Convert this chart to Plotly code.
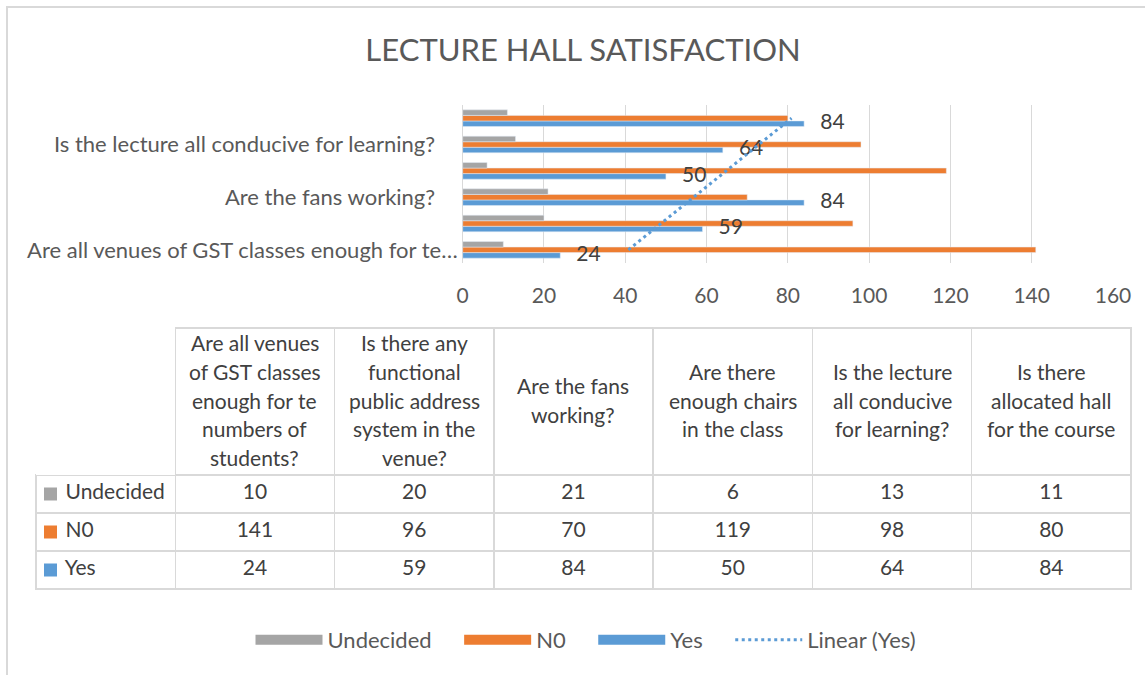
import numpy as np
import plotly.graph_objects as go

# ---------------- data ----------------
questions = [
    "Are all venues of GST classes enough for te numbers of students?",
    "Is there any functional public address system in the venue?",
    "Are the fans working?",
    "Are there enough chairs in the class",
    "Is the lecture all conducive for learning?",
    "Is there allocated hall for the course",
]
header_labels = [
    "Are all venues<br>of GST classes<br>enough for te<br>numbers of<br>students?",
    "Is there any<br>functional<br>public address<br>system in the<br>venue?",
    "Are the fans<br>working?",
    "Are there<br>enough chairs<br>in the class",
    "Is the lecture<br>all conducive<br>for learning?",
    "Is there<br>allocated hall<br>for the course",
]
axis_label_idx = [0, 2, 4]
axis_labels = [
    "Are all venues of GST classes enough for te\u2026",
    "Are the fans working?",
    "Is the lecture all conducive for learning?",
]
undecided = [10, 20, 21, 6, 13, 11]
no_vals = [141, 96, 70, 119, 98, 80]
yes_vals = [24, 59, 84, 50, 64, 84]
row_names = ["Undecided", "N0", "Yes"]
x_ticks = [0, 20, 40, 60, 80, 100, 120, 140, 160]

# ---------------- style ----------------
GRAY = "#A5A5A5"
ORANGE = "#ED7D31"
BLUE = "#5B9BD5"
TXT = "#595959"
DARK = "#404040"
GRID = "#D9D9D9"
FONT = "Lato"
W, H = 1145, 675
BARGAP = 0.37
NBSP = "\u00a0"


def px_x(p):
    return p / W


def px_y(p):
    return 1 - p / H


idx = np.arange(len(questions))
bar_w = (1 - BARGAP) / 3

fig = go.Figure()

# bars: first trace sits at the bottom of each group
fig.add_trace(go.Bar(y=idx, x=yes_vals, orientation="h", name="Yes", marker_color=BLUE, showlegend=False))
fig.add_trace(go.Bar(y=idx, x=no_vals, orientation="h", name="N0", marker_color=ORANGE, showlegend=False))
fig.add_trace(go.Bar(y=idx, x=undecided, orientation="h", name="Undecided", marker_color=GRAY, showlegend=False))

# data labels of the Yes series (drawn above all bars)
fig.add_trace(go.Scatter(x=yes_vals, y=idx - bar_w, mode="text",
                         text=[NBSP * 3 + str(v) for v in yes_vals], textposition="middle right",
                         textfont=dict(family=FONT, size=21, color=DARK),
                         showlegend=False, cliponaxis=False, hoverinfo="skip"))

# legend entries (wide swatches like the original)
for name, col in [("Undecided", GRAY), ("N0", ORANGE), ("Yes", BLUE)]:
    fig.add_trace(go.Scatter(x=[None], y=[None], mode="lines", name=name + NBSP * 4,
                             line=dict(color=col, width=10)))

# linear trendline of Yes
slope, intercept = np.polyfit(idx + 1, np.array(yes_vals, dtype=float), 1)
trend_x = slope * (idx + 1) + intercept
fig.add_trace(go.Scatter(x=trend_x, y=idx, mode="lines", name="Linear (Yes)",
                         line=dict(color=BLUE, width=3, dash="3px,3.5px"), cliponaxis=False))

# ---------------- data table ----------------
TBL_L, TBL_R, TBL_T = 36, 1131, 328
HDR_H, ROW_H = 147, 38
col_w = [139] + [159] * len(questions)
scale = (TBL_R - TBL_L) / sum(col_w)

cell_vals = [[NBSP * 4 + n for n in row_names]]
for i in range(len(questions)):
    cell_vals.append([undecided[i], no_vals[i], yes_vals[i]])

fig.add_trace(go.Table(
    domain=dict(x=[px_x(TBL_L), px_x(TBL_R)], y=[px_y(TBL_T + HDR_H + 3 * ROW_H + 3), px_y(TBL_T)]),
    columnwidth=col_w,
    header=dict(values=[""] * (len(questions) + 1), height=HDR_H,
                fill_color="white",
                line=dict(color=["rgba(0,0,0,0)"] + [GRID] * len(questions), width=1.5)),
    cells=dict(values=cell_vals, height=ROW_H,
               align=["left"] + ["center"] * len(questions), fill_color="white",
               line=dict(color=GRID, width=1.5),
               font=dict(family=FONT, size=21, color=DARK)),
))

annotations = []
hdr_center = TBL_T + HDR_H / 2 - 1.5
LINE_SP = 28.8
x_left = TBL_L + col_w[0] * scale
for j, lab in enumerate(header_labels):
    cx = x_left + (j + 0.5) * col_w[j + 1] * scale
    lines = lab.split("<br>")
    n = len(lines)
    for k, line in enumerate(lines):
        ly = hdr_center + (k - (n - 1) / 2) * LINE_SP
        annotations.append(dict(text=line, x=px_x(cx), y=px_y(ly), xref="paper", yref="paper",
                                xanchor="center", yanchor="middle", showarrow=False,
                                font=dict(family=FONT, size=21, color=DARK)))

# legend-key squares in the table's first column
shapes = [dict(type="rect", xref="paper", yref="paper",
               x0=px_x(TBL_L + 8), x1=px_x(TBL_L + 21),
               y0=px_y(TBL_T + HDR_H + (r + 0.5) * ROW_H + 6.5),
               y1=px_y(TBL_T + HDR_H + (r + 0.5) * ROW_H - 6.5),
               fillcolor=c, line=dict(width=0), layer="above")
          for r, c in enumerate([GRAY, ORANGE, BLUE])]
# chart border
shapes.append(dict(type="rect", xref="paper", yref="paper",
                   x0=px_x(7), x1=px_x(W + 20), y0=px_y(H + 20), y1=px_y(7),
                   line=dict(color=GRID, width=2), fillcolor="rgba(0,0,0,0)", layer="below"))

tick_text = [t if t.endswith("\u2026") else t + NBSP * 4 for t in axis_labels]

fig.update_layout(
    width=W, height=H,
    margin=dict(l=0, r=0, t=0, b=0),
    paper_bgcolor="white", plot_bgcolor="white",
    barmode="group", bargap=BARGAP, bargroupgap=0,
    title=dict(text="LECTURE HALL SATISFACTION", x=583 / W, y=px_y(50),
               xanchor="center", yanchor="middle",
               font=dict(family=FONT, size=31, color=TXT)),
    font=dict(family=FONT, color=TXT),
    xaxis=dict(domain=[px_x(462.7), px_x(1113)], range=[0, 160], tickvals=x_ticks,
               showgrid=True, gridcolor=GRID, gridwidth=1.3, zeroline=True, zerolinecolor=GRID,
               zerolinewidth=1.3, showline=False, ticks="", automargin=False,
               tickfont=dict(family=FONT, size=21, color=TXT), ticklabelstandoff=18),
    yaxis=dict(domain=[px_y(263), px_y(105)], range=[-0.5, 5.5],
               tickvals=axis_label_idx, ticktext=tick_text, showgrid=False,
               zeroline=False, showline=False, ticks="", automargin=False,
               tickfont=dict(family=FONT, size=22, color=TXT), ticklabelstandoff=4),
    legend=dict(orientation="h", x=586 / W, y=px_y(640), xanchor="center", yanchor="middle",
                font=dict(family=FONT, size=22, color=TXT), itemwidth=67,
                bgcolor="rgba(0,0,0,0)"),
    annotations=annotations,
    shapes=shapes,
)

fig.write_html("out.html", config={"displayModeBar": False},
               post_script="document.body.style.margin='0px';")
